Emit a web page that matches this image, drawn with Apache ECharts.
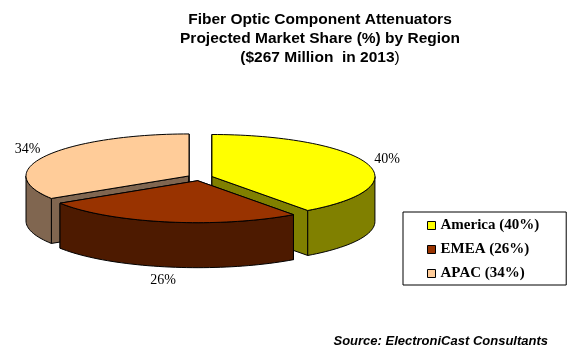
<!DOCTYPE html>
<html>
<head>
<meta charset="utf-8">
<script src="https://cdn.jsdelivr.net/npm/echarts@6/dist/echarts.min.js"></script>
<style>html,body{margin:0;padding:0;background:#fff}#c{width:573px;height:357px}</style>
</head>
<body>
<div id="c"></div>
<script>
var regions = ['America', 'EMEA', 'APAC'];
var shares = [40, 26, 34];
var topColors = ['#FFFF00', '#993300', '#FFCC99'];
var sideColors = ['#808000', '#4D1A00', '#806650'];
var drawOrder = [3, 4, 2]; // z per series (back to front)

var CX = 200, CY = 177.5, RX = 163, RY = 42, DEPTH = 45, EXPLODE = 0.077;
var total = shares.reduce(function (a, b) { return a + b; }, 0);

function makeRender(idx) {
  return function (params, api) {
    var v = api.value(0);
    var before = 0;
    for (var k = 0; k < idx; k++) before += shares[k];
    var a0 = before / total * 360;
    var a1 = a0 + v / total * 360;
    var mid = (a0 + a1) / 2 * Math.PI / 180;
    var cx = CX + EXPLODE * RX * Math.sin(mid);
    var cy = CY - EXPLODE * RY * Math.cos(mid);
    function P(deg, d) {
      var t = deg * Math.PI / 180;
      return [cx + RX * Math.sin(t), cy - RY * Math.cos(t) + (d || 0)];
    }
    function arc(s, e, d) {
      var pts = [], n = Math.max(2, Math.ceil(Math.abs(e - s) / 2));
      for (var j = 0; j <= n; j++) pts.push(P(s + (e - s) * j / n, d));
      return pts;
    }
    var side = { fill: sideColors[idx], stroke: '#000', lineWidth: 1 };
    var children = [];
    [a0, a1].forEach(function (ang) {
      var p = P(ang, 0);
      children.push({ type: 'polygon', shape: { points: [[cx, cy], p, [p[0], p[1] + DEPTH], [cx, cy + DEPTH]] }, style: side });
    });
    var w0 = Math.max(a0, 90), w1 = Math.min(a1, 270);
    if (w0 < w1) {
      var pts = arc(w0, w1, 0).concat(arc(w1, w0, DEPTH));
      children.push({ type: 'polygon', shape: { points: pts }, style: side });
    }
    children.push({ type: 'polygon', shape: { points: [[cx, cy]].concat(arc(a0, a1, 0)) },
      style: { fill: topColors[idx], stroke: '#000', lineWidth: 1 } });
    var c = Math.cos(mid), s = Math.sin(mid);
    var lx = cx + RX * 1.13 * s;
    var ly = cy - RY * 1.2 * c - 2 + (c < 0 ? (DEPTH + 8) * (-c) : 0);
    children.push({ type: 'text', z2: 10, style: { text: v + '%', x: lx, y: ly, align: 'center', verticalAlign: 'middle',
      font: '14px "Liberation Serif", "Times New Roman", serif', fill: '#000' } });
    return { type: 'group', children: children };
  };
}

var legendNames = regions.map(function (r, i) { return r + ' (' + shares[i] + '%)'; });

var series = regions.map(function (r, i) {
  return {
    type: 'custom',
    name: legendNames[i],
    coordinateSystem: 'none',
    z: drawOrder[i],
    silent: true,
    itemStyle: { color: topColors[i], borderColor: '#000', borderWidth: 1 },
    data: [[shares[i]]],
    renderItem: makeRender(i)
  };
});

var chart = echarts.init(document.getElementById('c'), null, { renderer: 'canvas' });
chart.setOption({
  animation: false,
  backgroundColor: '#fff',
  title: {
    text: 'Fiber Optic Component Attenuators\nProjected Market Share (%) by Region\n{b|($267 Million  in 2013}{n|)}',
    left: 315, top: 5, textAlign: 'center',
    textStyle: {
      fontFamily: '"Liberation Sans", Arial, sans-serif', fontWeight: 'bold', fontSize: 15.5, lineHeight: 19, color: '#000',
      rich: {
        b: { fontFamily: '"Liberation Sans", Arial, sans-serif', fontWeight: 'bold', fontSize: 15.5, lineHeight: 19, color: '#000' },
        n: { fontFamily: '"Liberation Sans", Arial, sans-serif', fontWeight: 'normal', fontSize: 15.5, lineHeight: 19, color: '#000' }
      }
    }
  },
  legend: {
    orient: 'vertical', left: 403, top: 212,
    padding: [6, 27, 4, 24],
    borderColor: '#000', borderWidth: 1,
    itemWidth: 8, itemHeight: 8, itemGap: 9,
    icon: 'rect',
    selectedMode: false,
    data: legendNames.map(function (n, i) {
      return { name: n, itemStyle: { color: topColors[i], borderColor: '#000', borderWidth: 1 } };
    }),
    textStyle: { fontFamily: '"Liberation Serif", "Times New Roman", serif', fontWeight: 'bold', fontSize: 15, lineHeight: 14, color: '#000' }
  },
  graphic: [{
    type: 'text', right: 25, top: 335,
    style: { text: 'Source: ElectroniCast Consultants', font: 'italic bold 13px "Liberation Sans", Arial, sans-serif', fill: '#000' }
  }],
  series: series
});
</script>
</body>
</html>
